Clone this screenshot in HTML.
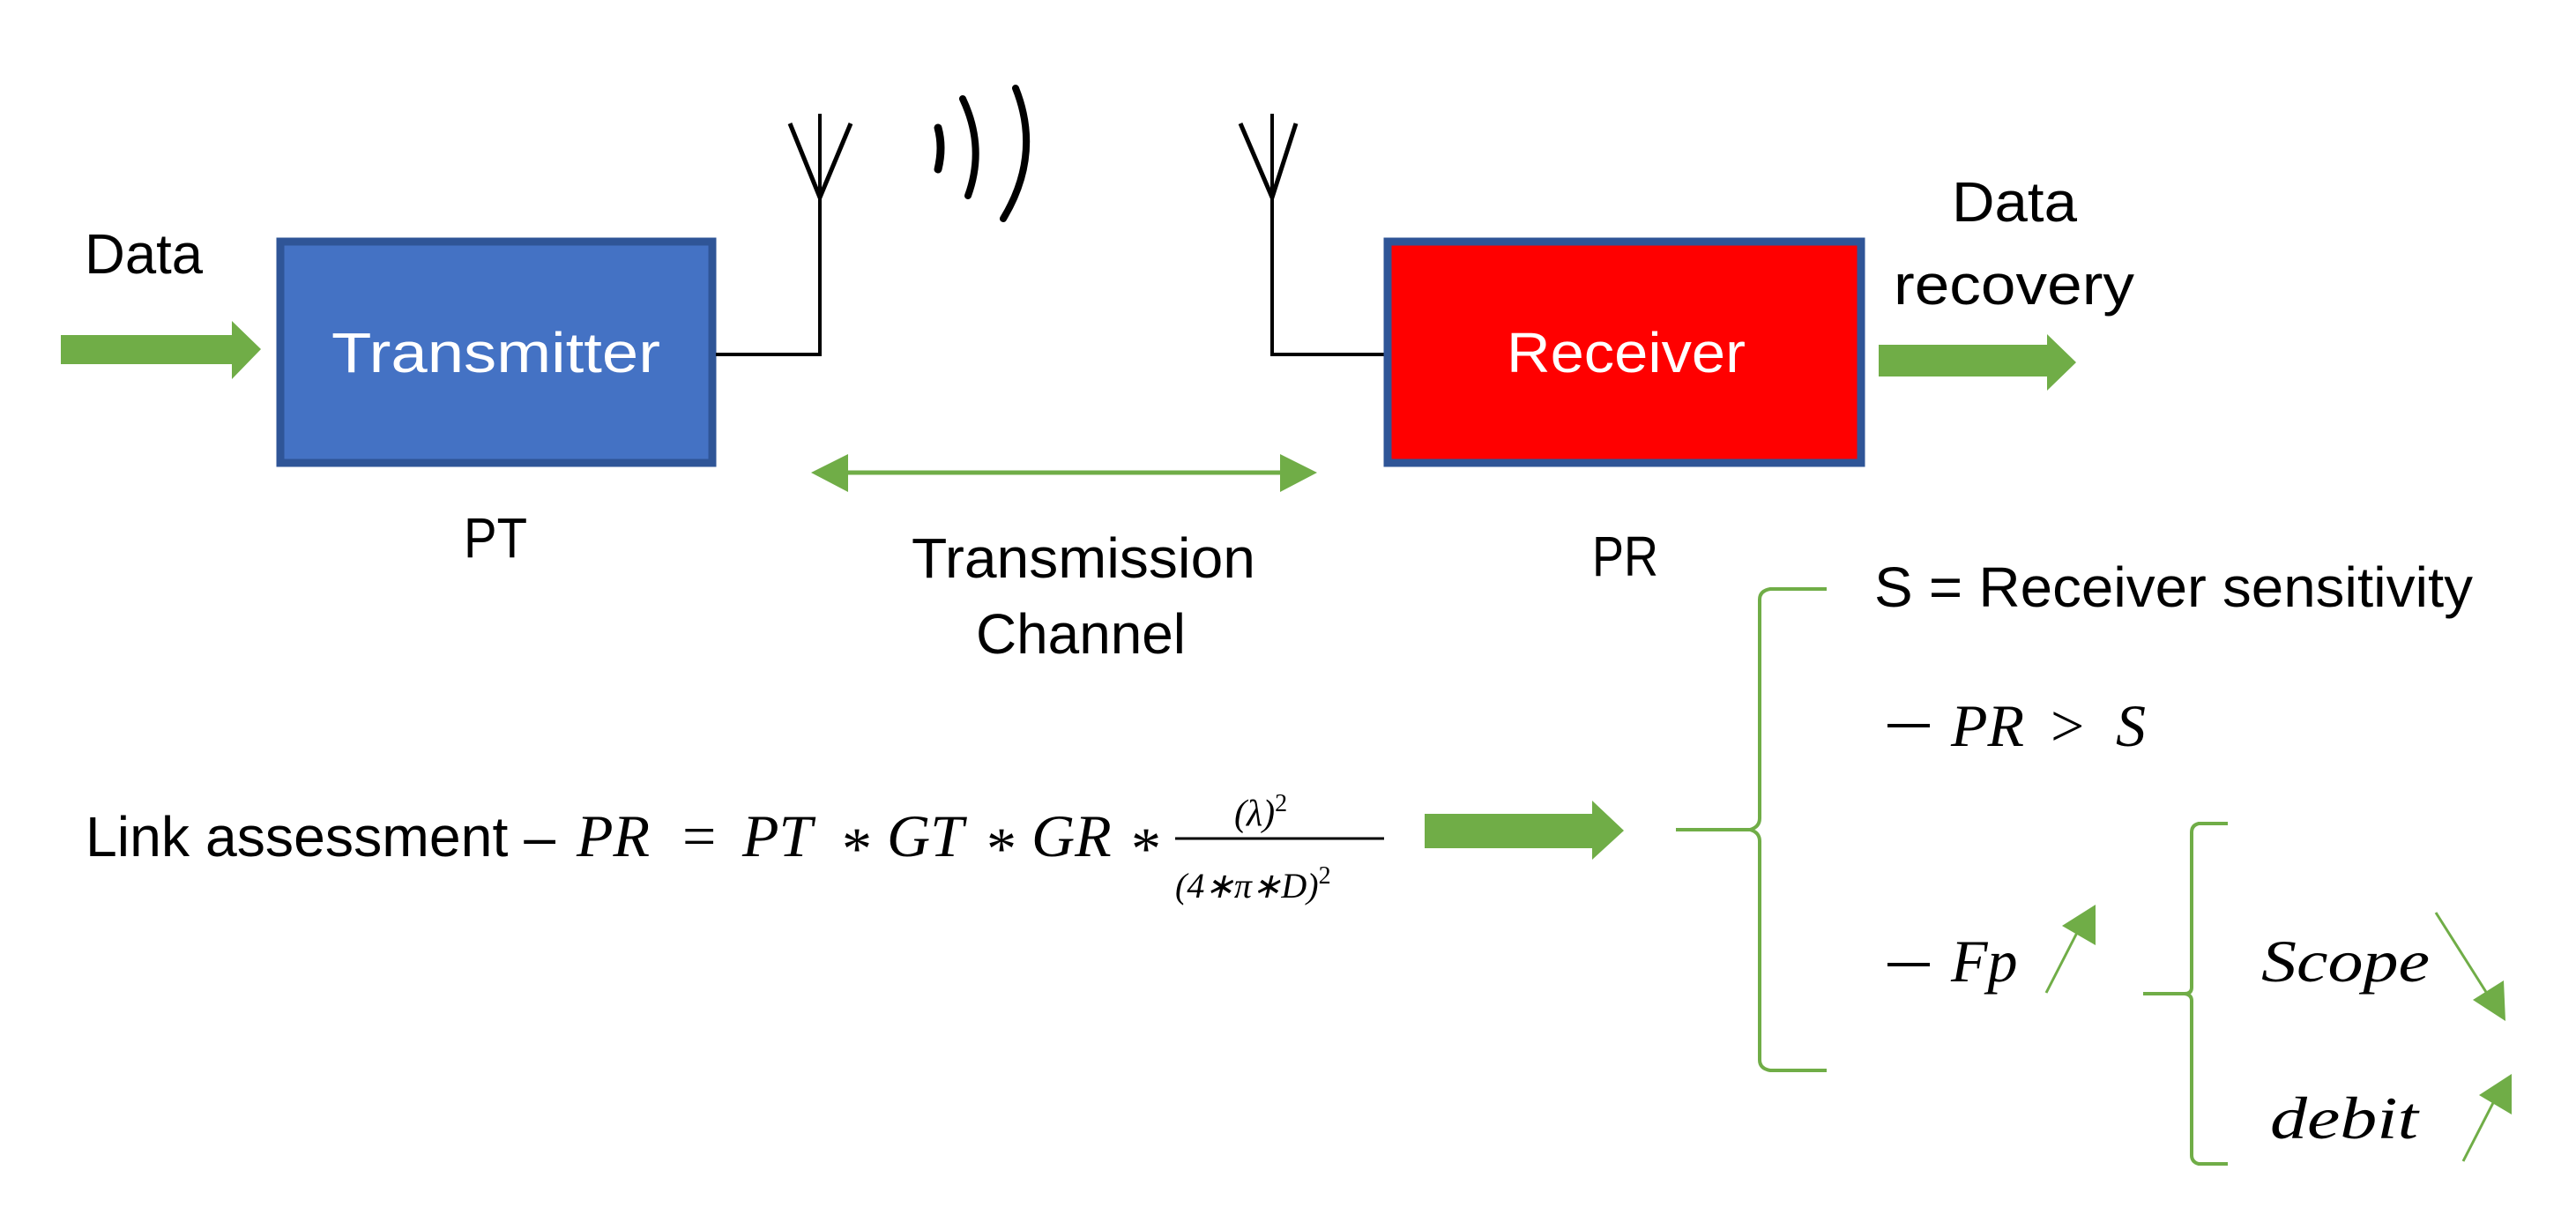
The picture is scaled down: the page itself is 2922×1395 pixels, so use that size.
<!DOCTYPE html>
<html><head><meta charset="utf-8"><style>
html,body{margin:0;padding:0;background:#fff;}
svg{display:block;}
.t{font-family:"Liberation Sans",sans-serif;font-size:64px;fill:#000;}
.m{font-family:"Liberation Serif",serif;font-style:italic;font-size:68px;fill:#000;}
</style></head><body>
<svg width="2922" height="1395" viewBox="0 0 2922 1395" xmlns="http://www.w3.org/2000/svg">
<rect width="2922" height="1395" fill="#fff"/>
<!-- Data input arrow -->
<polygon points="69,380 263,380 263,364 296,396 263,430 263,413 69,413" fill="#70ad47"/>
<text class="t" x="96" y="310" textLength="134" lengthAdjust="spacingAndGlyphs">Data</text>
<!-- Transmitter -->
<rect x="318" y="274" width="490" height="251" fill="#4472c4" stroke="#2f5597" stroke-width="9"/>
<text class="t" x="376" y="422" fill="#fff" style="fill:#fff" textLength="373" lengthAdjust="spacingAndGlyphs">Transmitter</text>
<text class="t" x="526" y="632" textLength="72" lengthAdjust="spacingAndGlyphs">PT</text>
<!-- antenna 1 -->
<polyline points="812,402 930,402 930,129" fill="none" stroke="#000" stroke-width="4"/>
<polyline points="896,140 930,224 965,140" fill="none" stroke="#000" stroke-width="5"/>
<!-- waves -->
<path d="M1064,145 Q1070,167 1064,192" fill="none" stroke="#000" stroke-width="9" stroke-linecap="round"/>
<path d="M1092,112 Q1118,167 1098,222" fill="none" stroke="#000" stroke-width="8" stroke-linecap="round"/>
<path d="M1152,100 Q1182,175 1138,248" fill="none" stroke="#000" stroke-width="8" stroke-linecap="round"/>
<!-- antenna 2 -->
<polyline points="1570,402 1443,402 1443,129" fill="none" stroke="#000" stroke-width="4"/>
<polyline points="1407,140 1443,224 1470,140" fill="none" stroke="#000" stroke-width="5"/>
<!-- double arrow -->
<line x1="950" y1="536" x2="1465" y2="536" stroke="#70ad47" stroke-width="5"/>
<polygon points="920,536 962,515 962,558" fill="#70ad47"/>
<polygon points="1494,536 1452,515 1452,558" fill="#70ad47"/>
<text class="t" x="1034" y="655" textLength="390" lengthAdjust="spacingAndGlyphs">Transmission</text>
<text class="t" x="1107" y="741" textLength="238" lengthAdjust="spacingAndGlyphs">Channel</text>
<!-- Receiver -->
<rect x="1574" y="274" width="537" height="251" fill="#ff0000" stroke="#2f5597" stroke-width="9"/>
<text class="t" x="1709" y="422" style="fill:#fff" textLength="271" lengthAdjust="spacingAndGlyphs">Receiver</text>
<text class="t" x="1806" y="653" textLength="75" lengthAdjust="spacingAndGlyphs">PR</text>
<text class="t" x="2214" y="251" textLength="142" lengthAdjust="spacingAndGlyphs">Data</text>
<text class="t" x="2148" y="345" textLength="273" lengthAdjust="spacingAndGlyphs">recovery</text>
<polygon points="2131,391 2322,391 2322,379 2355,411 2322,443 2322,427 2131,427" fill="#70ad47"/>
<!-- formula -->
<text class="t" x="97" y="971" textLength="533" lengthAdjust="spacingAndGlyphs">Link assessment –</text>
<text class="m" x="654" y="971">PR</text>
<text class="m" x="774" y="971" style="font-style:normal">=</text>
<text class="m" x="842" y="971">PT</text>
<text class="m" x="955" y="985" style="font-style:normal">*</text>
<text class="m" x="1006" y="971">GT</text>
<text class="m" x="1119" y="985" style="font-style:normal">*</text>
<text class="m" x="1170" y="971">GR</text>
<text class="m" x="1283" y="985" style="font-style:normal">*</text>
<line x1="1333" y1="951" x2="1570" y2="951" stroke="#000" stroke-width="3"/>
<text class="m" x="1400" y="936" style="font-size:42px">(λ)<tspan dy="-16" style="font-size:28px;font-style:normal">2</tspan></text>
<text class="m" x="1333" y="1018" style="font-size:40px">(4∗π∗D)<tspan dy="-16" style="font-size:28px;font-style:normal">2</tspan></text>
<polygon points="1616,923 1806,923 1806,908 1842,942 1806,975 1806,962 1616,962" fill="#70ad47"/>
<!-- big brace -->
<path d="M2072,668 L2008,668 Q1996,670 1996,680 L1996,928 Q1996,938 1985,941 L1901,941 M1985,941 Q1996,944 1996,954 L1996,1202 Q1996,1212 2008,1214 L2072,1214" fill="none" stroke="#70ad47" stroke-width="4"/>
<text class="t" x="2126" y="688" textLength="679" lengthAdjust="spacingAndGlyphs">S = Receiver sensitivity</text>
<line x1="2141" y1="823" x2="2189" y2="823" stroke="#000" stroke-width="4"/>
<text class="m" x="2213" y="846">PR</text>
<text class="m" x="2326" y="846" style="font-style:normal">&gt;</text>
<text class="m" x="2400" y="846">S</text>
<line x1="2141" y1="1094" x2="2189" y2="1094" stroke="#000" stroke-width="4"/>
<text class="m" x="2213" y="1113">Fp</text>
<line x1="2321" y1="1126" x2="2360" y2="1050" stroke="#70ad47" stroke-width="3"/>
<polygon points="2377,1026 2377,1072 2339,1050" fill="#70ad47"/>
<!-- small brace -->
<path d="M2527,934 L2494,934 Q2486,936 2486,944 L2486,1120 Q2486,1127 2478,1127 L2431,1127 M2478,1127 Q2486,1128 2486,1135 L2486,1310 Q2486,1318 2494,1320 L2527,1320" fill="none" stroke="#70ad47" stroke-width="4"/>
<text class="m" x="2565" y="1113" textLength="191" lengthAdjust="spacingAndGlyphs">Scope</text>
<text class="m" x="2575" y="1291" textLength="168" lengthAdjust="spacingAndGlyphs">debit</text>
<line x1="2763" y1="1035" x2="2825" y2="1133" stroke="#70ad47" stroke-width="3"/>
<polygon points="2842,1158 2840,1112 2805,1134" fill="#70ad47"/>
<line x1="2794" y1="1317" x2="2832" y2="1243" stroke="#70ad47" stroke-width="3"/>
<polygon points="2849,1218 2849,1264 2812,1242" fill="#70ad47"/>
</svg>
</body></html>
